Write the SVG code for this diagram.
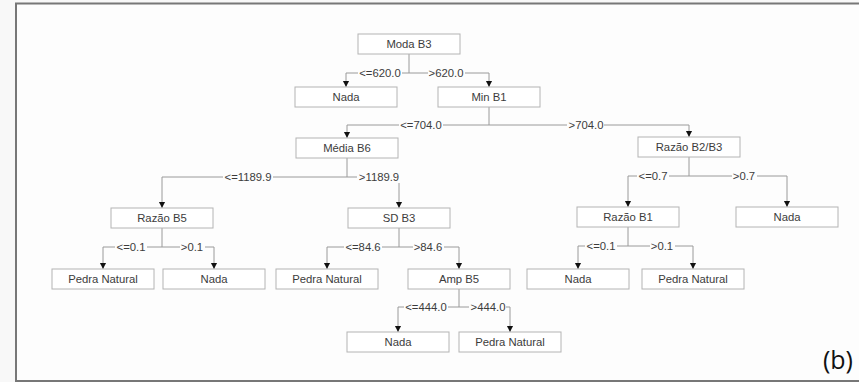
<svg xmlns="http://www.w3.org/2000/svg" width="859" height="382" viewBox="0 0 859 382">
<style>
.box rect{fill:#ffffff;stroke:#b4b4b4;stroke-width:1}
.box text,.lbl{font-family:"Liberation Sans",Arial,sans-serif;font-size:11.3px;fill:#3c3c3c;text-anchor:middle}
.conn path{fill:none;stroke:#9a9a9a;stroke-width:1}
</style>
<defs>
<marker id="arr" markerUnits="userSpaceOnUse" markerWidth="8" markerHeight="8" refX="6.5" refY="0" viewBox="0 -4 8 8" orient="auto">
<path d="M0,-3.3 L6.5,0 L0,3.3 z" fill="#111"/>
</marker>
</defs>
<rect x="0" y="0" width="859" height="382" fill="#f8f8f8"/>
<rect x="16" y="4" width="843" height="377" fill="#fdfdfd"/>
<path d="M16,382 V3.5 H859 M16,381 H859" fill="none" stroke="#777" stroke-width="2"/>

<g id="connectors" class="conn">
<path d="M409,54 V73 M346,73 H489"/><path d="M346,73 V87" marker-end="url(#arr)"/><path d="M489,73 V87" marker-end="url(#arr)"/>
<path d="M489,107 V125 M347,125 H689"/><path d="M347,125 V138" marker-end="url(#arr)"/><path d="M689,125 V137" marker-end="url(#arr)"/>
<path d="M347,158 V177 M162,177 H399"/><path d="M162,177 V208" marker-end="url(#arr)"/><path d="M399,177 V208" marker-end="url(#arr)"/>
<path d="M689,157 V176 M628,176 H787"/><path d="M628,176 V207" marker-end="url(#arr)"/><path d="M787,176 V207" marker-end="url(#arr)"/>
<path d="M162,228 V247 M103,247 H214"/><path d="M103,247 V269" marker-end="url(#arr)"/><path d="M214,247 V269" marker-end="url(#arr)"/>
<path d="M399,228 V247 M327,247 H459"/><path d="M327,247 V269" marker-end="url(#arr)"/><path d="M459,247 V269" marker-end="url(#arr)"/>
<path d="M628,227 V246 M578,246 H693"/><path d="M578,246 V269" marker-end="url(#arr)"/><path d="M693,246 V269" marker-end="url(#arr)"/>
<path d="M459,289 V307 M398,307 H510"/><path d="M398,307 V332" marker-end="url(#arr)"/><path d="M510,307 V332" marker-end="url(#arr)"/>
<g fill="#fdfdfd">
<rect x="358" y="67" width="44" height="12"/><rect x="428" y="67" width="37" height="12"/>
<rect x="399" y="119" width="44" height="12"/><rect x="567" y="119" width="37" height="12"/>
<rect x="223" y="171" width="50" height="12"/><rect x="357" y="171" width="44" height="12"/>
<rect x="637" y="170" width="32" height="12"/><rect x="732" y="170" width="25" height="12"/>
<rect x="115" y="241" width="32" height="12"/><rect x="180" y="241" width="25" height="12"/>
<rect x="344" y="241" width="38" height="12"/><rect x="413" y="241" width="31" height="12"/>
<rect x="585" y="240" width="32" height="12"/><rect x="650" y="240" width="25" height="12"/>
<rect x="404" y="301" width="44" height="12"/><rect x="469" y="301" width="37" height="12"/>
</g>
<text class="lbl" x="380" y="77">&lt;=620.0</text><text class="lbl" x="446" y="77">&gt;620.0</text>
<text class="lbl" x="421" y="129">&lt;=704.0</text><text class="lbl" x="586" y="129">&gt;704.0</text>
<text class="lbl" x="248" y="181">&lt;=1189.9</text><text class="lbl" x="379" y="181">&gt;1189.9</text>
<text class="lbl" x="653" y="180">&lt;=0.7</text><text class="lbl" x="744" y="180">&gt;0.7</text>
<text class="lbl" x="131" y="251">&lt;=0.1</text><text class="lbl" x="192" y="251">&gt;0.1</text>
<text class="lbl" x="363" y="251">&lt;=84.6</text><text class="lbl" x="428" y="251">&gt;84.6</text>
<text class="lbl" x="601" y="250">&lt;=0.1</text><text class="lbl" x="662" y="250">&gt;0.1</text>
<text class="lbl" x="426" y="311">&lt;=444.0</text><text class="lbl" x="488" y="311">&gt;444.0</text>
</g>

<g id="n-moda" class="box"><rect x="358" y="34" width="102" height="20"/><text x="409" y="48">Moda B3</text></g>
<g id="n-nada1" class="box"><rect x="295" y="87" width="102" height="20"/><text x="346" y="101">Nada</text></g>
<g id="n-minb1" class="box"><rect x="438" y="87" width="102" height="20"/><text x="489" y="101">Min B1</text></g>
<g id="n-media" class="box"><rect x="296" y="138" width="102" height="20"/><text x="347" y="152">Média B6</text></g>
<g id="n-razaob2b3" class="box"><rect x="638" y="137" width="102" height="20"/><text x="689" y="151">Razão B2/B3</text></g>
<g id="n-razaob5" class="box"><rect x="111" y="208" width="102" height="20"/><text x="162" y="222">Razão B5</text></g>
<g id="n-sdb3" class="box"><rect x="348" y="208" width="102" height="20"/><text x="399" y="222">SD B3</text></g>
<g id="n-razaob1" class="box"><rect x="577" y="207" width="102" height="20"/><text x="628" y="221">Razão B1</text></g>
<g id="n-nada-r" class="box"><rect x="736" y="207" width="102" height="20"/><text x="787" y="221">Nada</text></g>
<g id="n-pn1" class="box"><rect x="52" y="269" width="102" height="20"/><text x="103" y="283">Pedra Natural</text></g>
<g id="n-nada2" class="box"><rect x="163" y="269" width="102" height="20"/><text x="214" y="283">Nada</text></g>
<g id="n-pn2" class="box"><rect x="276" y="269" width="102" height="20"/><text x="327" y="283">Pedra Natural</text></g>
<g id="n-ampb5" class="box"><rect x="408" y="269" width="102" height="20"/><text x="459" y="283">Amp B5</text></g>
<g id="n-nada3" class="box"><rect x="527" y="269" width="102" height="20"/><text x="578" y="283">Nada</text></g>
<g id="n-pn3" class="box"><rect x="642" y="269" width="102" height="20"/><text x="693" y="283">Pedra Natural</text></g>
<g id="n-nada4" class="box"><rect x="347" y="332" width="102" height="20"/><text x="398" y="346">Nada</text></g>
<g id="n-pn4" class="box"><rect x="459" y="332" width="102" height="20"/><text x="510" y="346">Pedra Natural</text></g>

<text x="853" y="369" font-family="'Open Sans','Liberation Sans',sans-serif" font-size="25" fill="#111" text-anchor="end">(b)</text>
</svg>
